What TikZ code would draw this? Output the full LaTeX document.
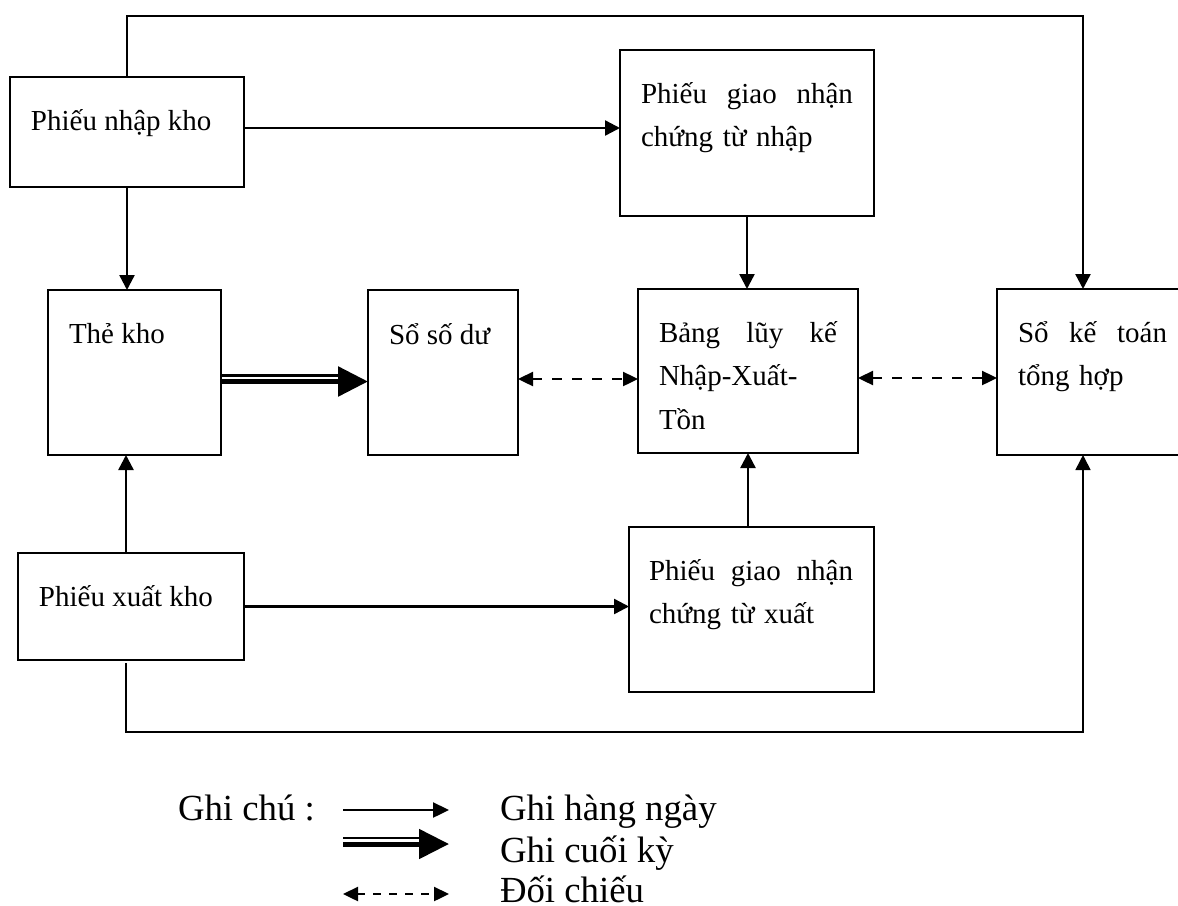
\documentclass[tikz,border=0pt]{standalone}
\usepackage{fontspec}
\setmainfont{Liberation Serif}
\usetikzlibrary{arrows.meta}

\begin{document}
\begin{tikzpicture}[x=0.5pt,y=-0.5pt]
\tikzstyle{every node}=[inner sep=0pt, outer sep=0pt]
\tikzstyle{box}=[draw, line width=1.2pt, rectangle, anchor=north west]
\tikzstyle{txt}=[anchor=base west, align=left, font=\fontsize{14.5pt}{21.75pt}\selectfont]
\tikzstyle{leg}=[anchor=base west, font=\fontsize{18.4pt}{20.5pt}\selectfont]
\tikzstyle{arr}=[line width=1.2pt, -{Triangle[length=7.5pt,width=7.5pt]}]
\tikzstyle{doi}=[line width=1.2pt, dash pattern=on 5pt off 5pt, {Triangle[length=7.5pt,width=7pt]}-{Triangle[length=7.5pt,width=7pt]}]
\tikzstyle{mong}=[line width=1.1pt]
\tikzstyle{day}=[line width=2.8pt, -{Triangle[length=15pt,width=14.5pt]}]
\clip (0,0) rectangle (1178,905);
% cac o
\draw (10,77) node (pnk) [box, minimum width=117pt, minimum height=55pt] {};
\draw (620,50) node (pgnn) [box, minimum width=127pt, minimum height=83pt] {};
\draw (48,290) node (thekho) [box, minimum width=86.5pt, minimum height=82.5pt] {};
\draw (368,290) node (sosodu) [box, minimum width=75pt, minimum height=82.5pt] {};
\draw (638,289) node (bang) [box, minimum width=110pt, minimum height=82pt] {};
\draw (997,289) node (sktth) [box, minimum width=95.5pt, minimum height=83pt] {};
\draw (18,553) node (pxk) [box, minimum width=113pt, minimum height=53.5pt] {};
\draw (629,527) node (pgnx) [box, minimum width=122.5pt, minimum height=82.5pt] {};
% chu trong o
\draw (31,130) node (pnkt) [txt] {Phiếu nhập kho};
\draw (641,103) node (pgnnt) [txt, text width=106pt] {Phiếu\hfill giao\hfill nhận\\chứng từ nhập};
\draw (69,343) node (thekhot) [txt] {Thẻ kho};
\draw (389,344) node (sosodut) [txt] {Sổ số dư};
\draw (659,342) node (bangt) [txt, text width=89pt] {Bảng\hfill lũy\hfill kế\\Nhập-Xuất-\\Tồn};
\draw (1018,342) node (sktht) [txt, text width=74.5pt] {Sổ\hfill kế\hfill toán\\tổng hợp};
\draw (39,606) node (pxkt) [txt] {Phiếu xuất kho};
\draw (649,580) node (pgnxt) [txt, text width=102pt] {Phiếu\hfill giao\hfill nhận\\chứng từ xuất};
% duong noi
\coordinate (tr) at (1083,16);
\coordinate (br) at (1083,732);
\draw[arr] (pnk.north) |- (tr) -- (tr |- sktth.north);
\draw[arr] ([yshift=2pt]pnk.east) -- ([yshift=2pt]pnk.east -| pgnn.west);
\draw[arr] (pnk.south) -- (pnk.south |- thekho.north);
\draw[arr] (pgnn.south) -- (pgnn.south |- bang.north);
\draw[mong, shorten >=14pt] ([yshift=-1.5pt]thekho.east) -- ([yshift=-1.5pt]thekho.east -| sosodu.west);
\draw[day] ([yshift=-4.5pt]thekho.east) -- ([yshift=-4.5pt]thekho.east -| sosodu.west);
\draw[doi] ([yshift=-3.25pt]sosodu.east) -- ([yshift=-3.25pt]sosodu.east -| bang.west);
\draw[doi] ([yshift=-3.5pt]bang.east) -- ([yshift=-3.5pt]bang.east -| sktth.west);
\draw[arr] ([xshift=-2.5pt]pxk.north) -- ([xshift=-2.5pt]pxk.north |- thekho.south);
\draw[arr] (pxk.east) -- (pxk.east -| pgnx.west);
\draw[arr] (pgnx.north -| bang.south) -- (bang.south);
\draw[arr, line width=0.8pt] ([xshift=-2.5pt,yshift=-1.5pt]pxk.south) |- (br) -- (br |- sktth.south);
% ghi chu
\draw (178,820) node (gc) [leg] {Ghi chú :};
\coordinate (l1a) at (343,810);
\coordinate (l1b) at (449,810);
\coordinate (l2a) at (343,841);
\coordinate (l2b) at (449,841);
\coordinate (l3a) at (343,894);
\coordinate (l3b) at (449,894);
\draw[arr, -{Triangle[length=8pt,width=7.5pt]}] (l1a) -- (l1b);
\draw[mong, shorten >=14pt] ([yshift=1.5pt]l2a) -- ([yshift=1.5pt]l2b);
\draw[day, line width=2.5pt] ([yshift=-1.5pt]l2a) -- ([yshift=-1.5pt]l2b);
\draw[doi, dash pattern=on 4pt off 4pt] (l3a) -- (l3b);
\draw (500,820) node (ghn) [leg] {Ghi hàng ngày};
\draw (500,862) node (gck) [leg] {Ghi cuối kỳ};
\draw (500,902) node (dc) [leg] {Đối chiếu};
\end{tikzpicture}
\end{document}
